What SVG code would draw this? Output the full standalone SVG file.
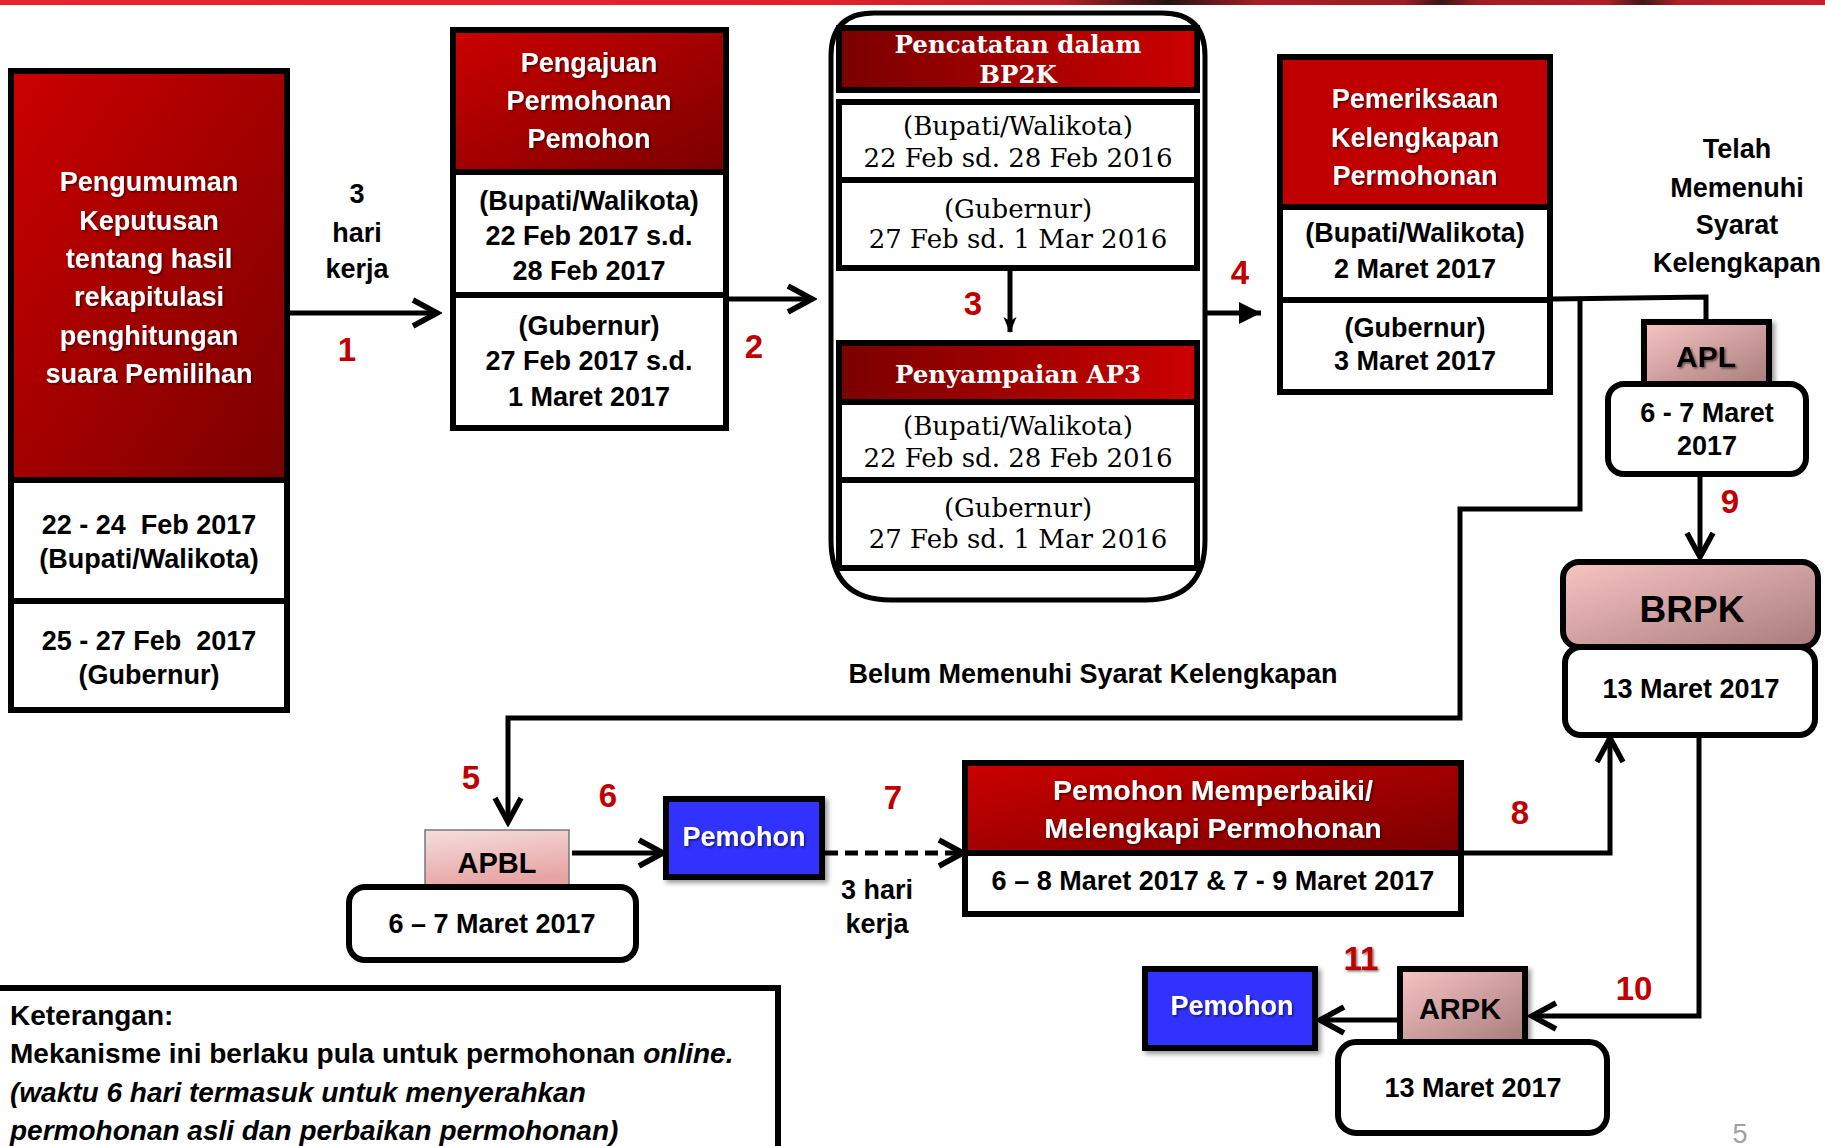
<svg xmlns="http://www.w3.org/2000/svg" width="1825" height="1146" viewBox="0 0 1825 1146">
<defs>
<linearGradient id="topbar" x1="0" y1="0" x2="1" y2="0">
<stop offset="0" stop-color="#e8232f"/><stop offset="0.45" stop-color="#e0222e"/><stop offset="0.58" stop-color="#b81f28"/><stop offset="0.64" stop-color="#241414"/><stop offset="0.69" stop-color="#a81e26"/><stop offset="0.77" stop-color="#9a1c24"/><stop offset="0.79" stop-color="#3a1616"/><stop offset="0.81" stop-color="#a01c24"/><stop offset="0.88" stop-color="#b01e28"/><stop offset="0.9" stop-color="#401818"/><stop offset="0.92" stop-color="#b01e28"/><stop offset="1" stop-color="#c8202c"/>
</linearGradient>
<linearGradient id="redD" x1="0" y1="0" x2="1" y2="1">
<stop offset="0" stop-color="#cc0000"/><stop offset="1" stop-color="#7a0000"/>
</linearGradient>
<linearGradient id="redH" x1="0" y1="0" x2="1" y2="0">
<stop offset="0" stop-color="#7a0000"/><stop offset="1" stop-color="#cc0000"/>
</linearGradient>
<linearGradient id="pink" x1="0" y1="0" x2="1" y2="1">
<stop offset="0" stop-color="#f8c4c4"/><stop offset="1" stop-color="#a87c7c"/>
</linearGradient>
<linearGradient id="pinkL" x1="0" y1="0" x2="0.3" y2="1">
<stop offset="0" stop-color="#f6dede"/><stop offset="1" stop-color="#e6a4a4"/>
</linearGradient>
<filter id="ts" x="-10%" y="-20%" width="130%" height="150%">
<feDropShadow dx="1.5" dy="1.5" stdDeviation="0.8" flood-color="#000" flood-opacity="0.55"/>
</filter>
<filter id="bs" x="-10%" y="-10%" width="130%" height="130%">
<feDropShadow dx="3" dy="3" stdDeviation="2.5" flood-color="#000" flood-opacity="0.4"/>
</filter>
<marker id="chev" viewBox="-4 -18 36 36" refX="27" refY="0" markerWidth="36" markerHeight="36" markerUnits="userSpaceOnUse" orient="auto">
<path d="M3,-13 L27,0 L3,13" fill="none" stroke="#000" stroke-width="5.5"/>
</marker>
<marker id="tri" viewBox="0 -12 24 24" refX="22" refY="0" markerWidth="24" markerHeight="24" markerUnits="userSpaceOnUse" orient="auto">
<path d="M0,-11 L22,0 L0,11 Z" fill="#000"/>
</marker>
<marker id="tri2" viewBox="0 -8 16 16" refX="15" refY="0" markerWidth="16" markerHeight="16" markerUnits="userSpaceOnUse" orient="auto">
<path d="M0,-6.5 L16,0 L0,6.5 L4,0 Z" fill="#000"/>
</marker>
</defs>
<style>
.bx{stroke:#000;stroke-width:6}
.wh{fill:#fff}
.t{font-family:"Liberation Sans",Arial,sans-serif;font-weight:bold;font-size:27px;text-anchor:middle;fill:#000}
.tw{fill:#fff;filter:url(#ts)}
.num{fill:#c00000;font-size:33px}
.sr{font-family:"DejaVu Serif","Liberation Serif",serif;font-size:26px;text-anchor:middle;fill:#000}
.srb{font-family:"DejaVu Serif","Liberation Serif",serif;font-weight:bold;font-size:24.5px;text-anchor:middle;fill:#fff}
.ln{fill:none;stroke:#000;stroke-width:5}
.pre{white-space:pre}
.ket{text-anchor:start;font-size:28px}
</style>

<rect x="0" y="0" width="1825" height="5" fill="url(#topbar)"/>

<g id="n-pengumuman">
<rect class="bx" x="11" y="71" width="276" height="409" fill="url(#redD)"/>
<rect class="bx wh" x="11" y="480" width="276" height="121"/>
<rect class="bx wh" x="11" y="601" width="276" height="109"/>
<text class="t tw" x="149" y="191">Pengumuman</text>
<text class="t tw" x="149" y="230">Keputusan</text>
<text class="t tw" x="149" y="268">tentang hasil</text>
<text class="t tw" x="149" y="306">rekapitulasi</text>
<text class="t tw" x="149" y="345">penghitungan</text>
<text class="t tw" x="149" y="383">suara Pemilihan</text>
<text class="t pre" x="149" y="534">22 - 24  Feb 2017</text>
<text class="t" x="149" y="568">(Bupati/Walikota)</text>
<text class="t pre" x="149" y="650">25 - 27 Feb  2017</text>
<text class="t" x="149" y="684">(Gubernur)</text>
</g>

<g id="n-pengajuan">
<rect class="bx" x="453" y="30" width="273" height="142" fill="url(#redD)"/>
<rect class="bx wh" x="453" y="172" width="273" height="123"/>
<rect class="bx wh" x="453" y="295" width="273" height="133"/>
<text class="t tw" x="589" y="72">Pengajuan</text>
<text class="t tw" x="589" y="110">Permohonan</text>
<text class="t tw" x="589" y="148">Pemohon</text>
<text class="t" x="589" y="210">(Bupati/Walikota)</text>
<text class="t" x="589" y="245">22 Feb 2017 s.d.</text>
<text class="t" x="589" y="280">28 Feb 2017</text>
<text class="t" x="589" y="335">(Gubernur)</text>
<text class="t" x="589" y="370">27 Feb 2017 s.d.</text>
<text class="t" x="589" y="406">1 Maret 2017</text>
</g>

<g id="n-bp2k">
<path d="M831,56 Q831,13 874,13 L1162,13 Q1205,13 1205,56 L1205,540 Q1205,600 1145,600 L891,600 Q831,600 831,540 Z" fill="none" stroke="#000" stroke-width="5"/>
<rect class="bx" x="839" y="28" width="358" height="62" fill="url(#redH)"/>
<text class="srb" x="1018" y="53">Pencatatan dalam</text>
<text class="srb" x="1018" y="83">BP2K</text>
<rect class="bx wh" x="839" y="102" width="358" height="78"/>
<text class="sr" x="1018" y="135">(Bupati/Walikota)</text>
<text class="sr" x="1018" y="167">22 Feb sd. 28 Feb 2016</text>
<rect class="bx wh" x="839" y="180" width="358" height="88"/>
<text class="sr" x="1018" y="218">(Gubernur)</text>
<text class="sr" x="1018" y="248">27 Feb sd. 1 Mar 2016</text>
</g>

<g id="n-ap3">
<rect class="bx" x="839" y="343" width="358" height="59" fill="url(#redH)"/>
<text class="srb" x="1018" y="383">Penyampaian AP3</text>
<rect class="bx wh" x="839" y="402" width="358" height="78"/>
<text class="sr" x="1018" y="435">(Bupati/Walikota)</text>
<text class="sr" x="1018" y="467">22 Feb sd. 28 Feb 2016</text>
<rect class="bx wh" x="839" y="480" width="358" height="88"/>
<text class="sr" x="1018" y="517">(Gubernur)</text>
<text class="sr" x="1018" y="548">27 Feb sd. 1 Mar 2016</text>
</g>

<g id="n-pemeriksaan">
<rect class="bx" x="1280" y="57" width="270" height="150" fill="#c00000"/>
<rect class="bx wh" x="1280" y="207" width="270" height="93"/>
<rect class="bx wh" x="1280" y="300" width="270" height="92"/>
<text class="t tw" x="1415" y="108">Pemeriksaan</text>
<text class="t tw" x="1415" y="147">Kelengkapan</text>
<text class="t tw" x="1415" y="185">Permohonan</text>
<text class="t" x="1415" y="242">(Bupati/Walikota)</text>
<text class="t" x="1415" y="278">2 Maret 2017</text>
<text class="t" x="1415" y="337">(Gubernur)</text>
<text class="t" x="1415" y="370">3 Maret 2017</text>
</g>

<g id="n-apl">
<rect class="bx" x="1644" y="322" width="125" height="62" fill="url(#pink)" filter="url(#bs)"/>
<text class="t" x="1706" y="367" style="font-size:30px" filter="url(#ts)">APL</text>
<rect class="bx wh" x="1608" y="384" width="198" height="90" rx="16"/>
<text class="t" x="1707" y="422">6 - 7 Maret</text>
<text class="t" x="1707" y="455">2017</text>
</g>

<g id="n-brpk">
<rect class="bx" x="1563" y="562" width="255" height="85" rx="16" fill="url(#pink)"/>
<text class="t" x="1692" y="622" style="font-size:37px">BRPK</text>
<rect class="bx wh" x="1565" y="647" width="250" height="88" rx="16"/>
<text class="t" x="1691" y="698">13 Maret 2017</text>
</g>

<g id="n-apbl">
<rect x="425" y="830" width="144" height="57" fill="url(#pinkL)" stroke="#777" stroke-width="1.5"/>
<text class="t" x="497" y="873" style="font-size:29px">APBL</text>
<rect class="bx wh" x="349" y="887" width="287" height="73" rx="16"/>
<text class="t" x="492" y="933">6 – 7 Maret 2017</text>
</g>

<g id="n-pemohon1">
<rect class="bx" x="666" y="799" width="156" height="78" fill="#3333ff" filter="url(#bs)"/>
<text class="t tw" x="744" y="846">Pemohon</text>
</g>

<g id="n-memperbaiki">
<rect class="bx" x="965" y="763" width="496" height="90" fill="url(#redD)"/>
<rect class="bx wh" x="965" y="853" width="496" height="61"/>
<text class="t tw" x="1213" y="800" style="font-size:28.5px">Pemohon Memperbaiki/</text>
<text class="t tw" x="1213" y="838" style="font-size:28.5px">Melengkapi Permohonan</text>
<text class="t" x="1213" y="890">6 – 8 Maret 2017 &amp; 7 - 9 Maret 2017</text>
</g>

<g id="n-arpk">
<rect class="bx" x="1400" y="969" width="125" height="73" fill="url(#pink)" filter="url(#bs)"/>
<text class="t" x="1460" y="1019" style="font-size:29px">ARPK</text>
<rect class="bx wh" x="1338" y="1042" width="269" height="91" rx="18"/>
<text class="t" x="1473" y="1097">13 Maret 2017</text>
</g>

<g id="n-pemohon2">
<rect class="bx" x="1145" y="969" width="170" height="79" fill="#3333ff" filter="url(#bs)"/>
<text class="t tw" x="1232" y="1015">Pemohon</text>
</g>

<g id="n-keterangan">
<rect class="bx wh" x="-10" y="988" width="788" height="200" stroke-width="5"/>
<text class="t ket" x="10" y="1025">Keterangan:</text>
<text class="t ket" x="10" y="1063">Mekanisme ini berlaku pula untuk permohonan <tspan font-style="italic">online.</tspan></text>
<text class="t ket" x="10" y="1102" font-style="italic">(waktu 6 hari termasuk untuk menyerahkan</text>
<text class="t ket" x="10" y="1140" font-style="italic">permohonan asli dan perbaikan permohonan)</text>
</g>

<g id="connectors">
<line class="ln" x1="290" y1="313" x2="437" y2="313" stroke-width="6" marker-end="url(#chev)"/>
<line class="ln" x1="729" y1="299" x2="812" y2="299" stroke-width="5" marker-end="url(#chev)"/>
<line class="ln" x1="1010" y1="271" x2="1010" y2="332" stroke-width="3" marker-end="url(#tri2)"/>
<line class="ln" x1="1207" y1="313" x2="1261" y2="313" stroke-width="6" marker-end="url(#tri)"/>
<polyline class="ln" points="1553,299 1706,297 1706,320" stroke-width="4"/>
<polyline class="ln" points="1580,298 1580,509 1460,509 1460,718 508,718 508,822" stroke-width="5" marker-end="url(#chev)"/>
<line class="ln" x1="572" y1="853" x2="663" y2="853" stroke-width="6" marker-end="url(#chev)"/>
<line class="ln" x1="825" y1="853" x2="963" y2="853" stroke-width="6" stroke-dasharray="13 7" marker-end="url(#chev)"/>
<polyline class="ln" points="1464,853 1610,853 1610,738" stroke-width="5" marker-end="url(#chev)"/>
<line class="ln" x1="1700" y1="477" x2="1700" y2="557" stroke-width="4" marker-end="url(#chev)"/>
<polyline class="ln" points="1699,738 1699,1016 1532,1016" stroke-width="5" marker-end="url(#chev)"/>
<line class="ln" x1="1397" y1="1020" x2="1320" y2="1020" stroke-width="5" marker-end="url(#chev)"/>
</g>

<g id="labels">
<text class="t" x="357" y="203">3</text>
<text class="t" x="357" y="242">hari</text>
<text class="t" x="357" y="278">kerja</text>
<text class="t num" x="347" y="361">1</text>
<text class="t num" x="754" y="358">2</text>
<text class="t num" x="973" y="315">3</text>
<text class="t num" x="1240" y="284">4</text>
<text class="t num" x="471" y="789">5</text>
<text class="t num" x="608" y="807">6</text>
<text class="t num" x="893" y="809">7</text>
<text class="t num" x="1520" y="824">8</text>
<text class="t num" x="1730" y="513">9</text>
<text class="t num" x="1634" y="1000">10</text>
<text class="t num" x="1361" y="970" filter="url(#ts)">11</text>
<text class="t" x="877" y="899">3 hari</text>
<text class="t" x="877" y="933">kerja</text>
<text class="t" x="1737" y="158">Telah</text>
<text class="t" x="1737" y="197">Memenuhi</text>
<text class="t" x="1737" y="234">Syarat</text>
<text class="t" x="1737" y="272">Kelengkapan</text>
<text class="t" x="1093" y="683">Belum Memenuhi Syarat Kelengkapan</text>
<text x="1740" y="1143" font-family="Liberation Sans, Arial, sans-serif" font-size="27" fill="#a0a0a0" text-anchor="middle">5</text>
</g>
</svg>
